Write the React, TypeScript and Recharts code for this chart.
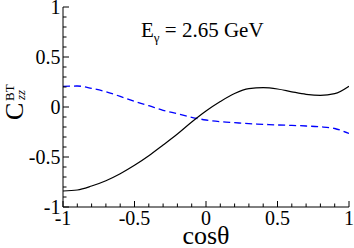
import React from "react";
import { LineChart, Line, XAxis, YAxis } from "recharts";

const cosTheta = [-1, -0.9, -0.8, -0.7, -0.6, -0.5, -0.4, -0.3, -0.2, -0.1, 0, 0.1, 0.2, 0.3, 0.4, 0.5, 0.6, 0.7, 0.8, 0.9, 1];
const solidBlack = [-0.84, -0.83, -0.79, -0.737, -0.667, -0.583, -0.487, -0.38, -0.27, -0.15, -0.04, 0.055, 0.135, 0.183, 0.193, 0.18, 0.152, 0.127, 0.116, 0.133, 0.208];
const dashedBlue = [0.206, 0.21, 0.186, 0.153, 0.106, 0.056, 0.013, -0.033, -0.067, -0.103, -0.13, -0.147, -0.157, -0.167, -0.173, -0.18, -0.184, -0.19, -0.198, -0.215, -0.265];

const xTickValues = [-1, -0.9, -0.8, -0.7, -0.6, -0.5, -0.4, -0.3, -0.2, -0.1, 0, 0.1, 0.2, 0.3, 0.4, 0.5, 0.6, 0.7, 0.8, 0.9, 1];
const yTickValues = [-1, -0.9, -0.8, -0.7, -0.6, -0.5, -0.4, -0.3, -0.2, -0.1, 0, 0.1, 0.2, 0.3, 0.4, 0.5, 0.6, 0.7, 0.8, 0.9, 1];
const majorValues = [-1, -0.5, 0, 0.5, 1];
const xTickLabels = ["-1", "-0.5", "0", "0.5", "1"];
const yTickLabels = ["-1", "-0.5", "0", "0.5", "1"];

const data = cosTheta.map((x, i) => ({ x, black: solidBlack[i], blue: dashedBlue[i] }));

const FONT = "Liberation Serif";
const txt = { fontFamily: FONT } as React.CSSProperties;
const MAJOR = 6;
const MINOR = 3.5;

const majorIndex = (v: number) => majorValues.findIndex((m) => Math.abs(m - v) < 1e-6);

const makeTick = (side: "bottom" | "top" | "left" | "right", labels?: string[]) => (props: any) => {
  const { x, y, payload } = props;
  const idx = majorIndex(payload.value);
  const len = idx >= 0 ? MAJOR : MINOR;
  let x2 = x, y2 = y;
  if (side === "bottom") y2 = y - len;
  if (side === "top") y2 = y + len;
  if (side === "left") x2 = x + len;
  if (side === "right") x2 = x - len;
  return (
    <g>
      <line x1={x} y1={y} x2={x2} y2={y2} stroke="#000" strokeWidth={1} />
      {labels && idx >= 0 && side === "bottom" && (
        <text x={x} y={y + 18} textAnchor="middle" style={txt} fontSize={20} fill="#000">
          {labels[idx]}
        </text>
      )}
      {labels && idx >= 0 && side === "left" && (
        <text x={x - 2.5} y={y + 6.7} textAnchor="end" style={txt} fontSize={20} fill="#000">
          {labels[idx]}
        </text>
      )}
    </g>
  );
};

export default function App() {
  return (
    <div style={{ position: "absolute", left: 0, top: 0, width: 354, height: 248, background: "#fff", fontFamily: FONT }}>
      <LineChart width={354} height={248} data={data} margin={{ top: 7, right: 5, bottom: 0, left: 0 }}>
        <XAxis
          xAxisId="b"
          dataKey="x"
          type="number"
          domain={[-1, 1]}
          ticks={xTickValues}
          interval={0}
          height={41}
          tickSize={0}
          tickMargin={0}
          tickLine={false}
          axisLine={{ stroke: "#000", strokeWidth: 1 }}
          tick={makeTick("bottom", xTickLabels)}
          allowDataOverflow
        />
        <XAxis
          xAxisId="t"
          orientation="top"
          dataKey="x"
          type="number"
          domain={[-1, 1]}
          ticks={xTickValues}
          interval={0}
          height={0}
          tickSize={0}
          tickMargin={0}
          tickLine={false}
          axisLine={{ stroke: "#000", strokeWidth: 1 }}
          tick={makeTick("top")}
        />
        <YAxis
          yAxisId="l"
          type="number"
          domain={[-1, 1]}
          ticks={yTickValues}
          interval={0}
          width={63}
          tickSize={0}
          tickMargin={0}
          tickLine={false}
          axisLine={{ stroke: "#000", strokeWidth: 1 }}
          tick={makeTick("left", yTickLabels)}
          allowDataOverflow
        />
        <YAxis
          yAxisId="r"
          orientation="right"
          type="number"
          domain={[-1, 1]}
          ticks={yTickValues}
          interval={0}
          width={0}
          tickSize={0}
          tickMargin={0}
          tickLine={false}
          axisLine={{ stroke: "#000", strokeWidth: 1 }}
          tick={makeTick("right")}
        />
        <Line
          xAxisId="b"
          yAxisId="l"
          dataKey="blue"
          type="monotone"
          stroke="#0000ff"
          strokeWidth={1.3}
          strokeDasharray="7 4"
          dot={false}
          isAnimationActive={false}
        />
        <Line
          xAxisId="b"
          yAxisId="l"
          dataKey="black"
          type="monotone"
          stroke="#000"
          strokeWidth={1.2}
          dot={false}
          isAnimationActive={false}
        />
      </LineChart>
      <svg width={354} height={248} style={{ position: "absolute", left: 0, top: 0, pointerEvents: "none" }}>
        <text x={141} y={36.5} style={txt} fontSize={21} fill="#000">
          E
          <tspan fontSize={13} dy={5}>γ</tspan>
          <tspan dy={-5}> = 2.65 GeV</tspan>
        </text>
        <text x={206} y={244} textAnchor="middle" style={txt} fontSize={26} fill="#000">
          cosθ
        </text>
        <g transform="translate(23,120) rotate(-90)">
          <text x={0} y={0} style={txt} fontSize={26} fill="#000">
            C
            <tspan x={19} y={-9} fontSize={13}>BT</tspan>
            <tspan x={20} y={2} fontSize={13} fontStyle="italic">zz</tspan>
          </text>
        </g>
      </svg>
    </div>
  );
}
